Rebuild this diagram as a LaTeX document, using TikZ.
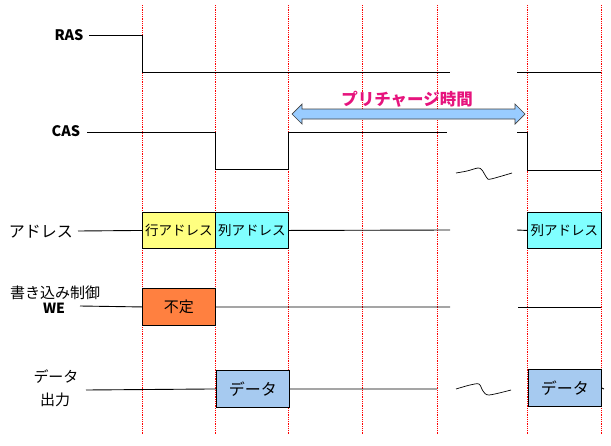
\documentclass[tikz,border=0pt]{standalone}
\usepackage{fontspec}
\newfontfamily\jp{Noto Sans CJK JP}
\usetikzlibrary{positioning}
\definecolor{rowyellow}{RGB}{255,255,128}
\definecolor{colcyan}{RGB}{128,255,255}
\definecolor{undeforange}{RGB}{255,128,64}
\definecolor{datablue}{RGB}{166,202,240}
\definecolor{arrowblue}{RGB}{153,204,255}
\definecolor{prepink}{RGB}{230,20,125}
\begin{document}
\begin{tikzpicture}[
        x=1pt, y=-1pt,
        % Style for the red dotted time guides
        guide/.style={draw=red, densely dotted, line width=0.8pt},
        % Style for signal waveforms
        wave/.style={draw=black, line width=0.9pt},
        % Style for the signal names on the left
        sigName/.style={font=\jp\fontsize{15}{17}\selectfont, inner sep=0pt},
        % Standard value box on a signal line
        valBox/.style={
            rectangle, draw=black, line width=0.9pt, anchor=north west,
            minimum width=73pt, minimum height=36pt, inner sep=0pt,
            font=\jp\fontsize{13.5}{15}\selectfont
        },
        % Block arrow for the precharge time
        blockArrow/.style={draw=black!75, line width=0.7pt, fill=arrowblue, line join=miter},
        squiggle/.style={draw=black, line width=0.7pt}
    ]
        \useasboundingbox (0,0) rectangle (611,445);

        % --- Guides ---
        \foreach \tx in {142,215,288,362,437,527,601}
            \path [guide] (\tx,5) -- (\tx,435);

        % --- Nodes ---

        % 1. Signal names
        \node [sigName, font=\jp\bfseries\fontsize{14.5}{16}\selectfont] (ras) at (69,35) {RAS};
        \node [sigName, font=\jp\bfseries\fontsize{14.5}{16}\selectfont] (cas) at (66,131) {CAS};
        \node [sigName, font=\jp\fontsize{16}{18}\selectfont] (addr) at (41,232) {アドレス};
        \node [sigName] (wctl) at (55,293) {書き込み制御};
        \node [sigName, font=\jp\bfseries\fontsize{14}{16}\selectfont] (we) at (54,308) {WE};
        \node [sigName] (dat) at (56,377) {データ};
        \node [sigName] (out) at (55,400) {出力};

        % 2. Value boxes
        \node [valBox, fill=rowyellow] (rowaddr) at (142,212) {行アドレス};
        \node [valBox, fill=colcyan] (coladdr) at (215,212) {列アドレス};
        \node [valBox, fill=colcyan, minimum width=74pt] (coladdr2) at (527,212) {列アドレス};
        \node [valBox, fill=undeforange, minimum height=37pt, font=\jp\fontsize{15}{17}\selectfont] (undef) at (142,288) {不定};
        \node [valBox, fill=datablue, minimum height=37pt, font=\jp\fontsize{16}{18}\selectfont] (data1) at (216,370) {データ};
        \node [valBox, fill=datablue, minimum height=37pt, font=\jp\fontsize{16}{18}\selectfont] (data2) at (528,369) {データ};

        % 3. Precharge arrow and its label
        \coordinate (preL) at (292,114);
        \coordinate (preR) at (525,114);
        \path [blockArrow] (preL) -- ++(10,-10) -- ++(0,5) -- ([shift={(-10,-5)}]preR)
            -- ++(0,-5) -- (preR) -- ++(-10,10) -- ++(0,-5) -- ([shift={(10,5)}]preL)
            -- ++(0,5) -- cycle;
        \node [font=\jp\bfseries\fontsize{16.5}{18}\selectfont, text=prepink]
            (prelabel) at (407,99) {プリチャージ時間};

        % --- Waveforms ---

        % RAS
        \path [wave] (89,35) -- (142,35) -- (142,72) -- (450,72);
        \path [wave] (517,72) -- (601,72);

        % CAS
        \path [wave] (87,132) -- (215,132) -- (215,169) -- (288,169) -- (288,132) -- (447,132);
        \path [wave] (517,132) -- (527,132) -- (527,170) -- (601,170);

        % Address
        \path [wave] (78,231) -- (rowaddr.west);
        \path [wave] (coladdr.east) -- (450,230);
        \path [wave] (517,230) -- (coladdr2.west);

        % WE
        \path [wave] (80,306) -- (undef.west);
        \path [wave] (undef.east) -- (450,307);
        \path [wave] (518,307) -- (601,307);

        % Data output
        \path [wave] (86,390) -- (data1.west);
        \path [wave] (data1.east) -- (437,389);
        \path [wave] (data2.east) -- (604,389);

        % Time breaks
        \path [squiggle] plot [smooth, tension=0.5] coordinates
            {(456,173) (467,171) (478,168) (482,170) (487,178) (491,179) (512,173)};
        \path [squiggle] plot [smooth, tension=0.5] coordinates
            {(456,389) (470,385) (479,384) (483,391) (489,395) (511,390)};

    \end{tikzpicture}
\end{document}
